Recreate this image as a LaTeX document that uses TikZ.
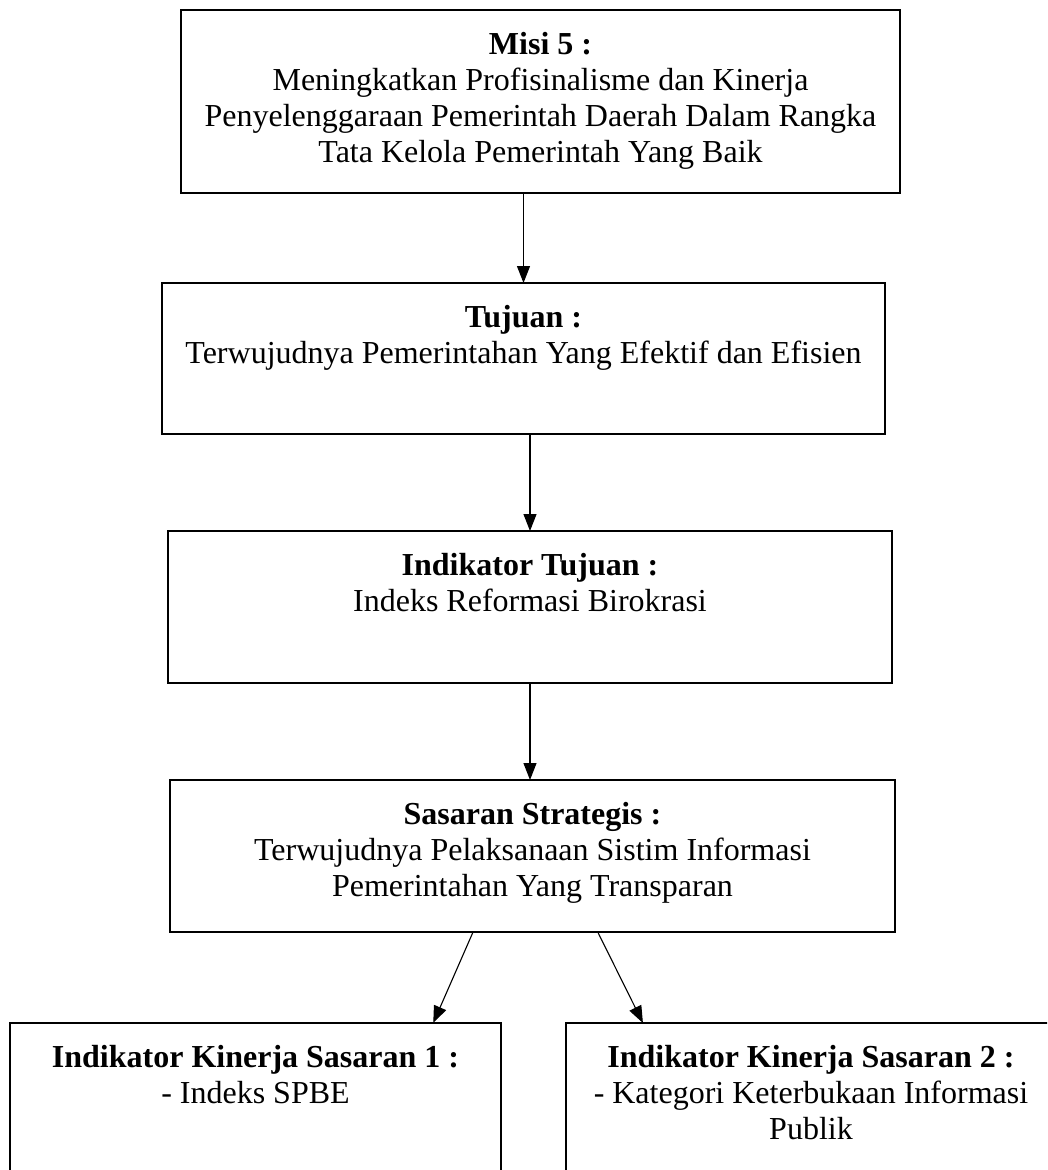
\documentclass[tikz,border=0pt]{standalone}
\usepackage{fontspec}
\setmainfont{Liberation Serif}
\usetikzlibrary{arrows.meta,calc}
\tikzstyle{kotak}=[draw,line width=1.6pt,inner sep=0pt,outer sep=0pt]
\tikzstyle{isi}=[align=center,inner sep=0pt,anchor=north,font=\fontsize{32}{36}\selectfont]
\tikzstyle{panah}=[line width=1.1pt,-{Triangle[length=17pt,width=13pt]}]
\newcommand{\isikotak}[3]{% box name, bold title, body lines
  \node[isi] (#1teks) at ([yshift=-22pt]#1.north) {\textbf{#2}\\#3};
}

\begin{document}
\begin{tikzpicture}[x=1pt,y=-1pt]
	\useasboundingbox (0,0) rectangle (1047,1170);
	\begin{scope}
	\clip (0,0) rectangle (1047,1170);
	% boxes, in picture pixels
	\node[kotak,minimum width=719pt,minimum height=183pt] (misi) at (540.5,101.5) {};
	\node[kotak,minimum width=723pt,minimum height=151pt] (tujuan) at (523.5,358.5) {};
	\node[kotak,minimum width=724pt,minimum height=152pt] (indikator) at (530,607) {};
	\node[kotak,minimum width=725pt,minimum height=152pt] (sasaran) at (532.5,856) {};
	\node[kotak,minimum width=491pt,minimum height=172pt] (iksatu) at (255.5,1109) {};
	\node[kotak,minimum width=490pt,minimum height=172pt] (ikdua) at (811,1109) {};
	\isikotak{misi}{Misi 5 :}{Meningkatkan Profisinalisme dan Kinerja\\Penyelenggaraan Pemerintah Daerah Dalam Rangka\\Tata Kelola Pemerintah Yang Baik}
	\isikotak{tujuan}{Tujuan :}{Terwujudnya Pemerintahan Yang Efektif dan Efisien}
	\isikotak{indikator}{Indikator Tujuan :}{Indeks Reformasi Birokrasi}
	\isikotak{sasaran}{Sasaran Strategis :}{Terwujudnya Pelaksanaan Sistim Informasi\\Pemerintahan Yang Transparan}
	\isikotak{iksatu}{Indikator Kinerja Sasaran 1 :}{- Indeks SPBE}
	\isikotak{ikdua}{Indikator Kinerja Sasaran 2 :}{- Kategori Keterbukaan Informasi\\Publik}
	% arrows
	\draw[panah] (misi.south -| tujuan.north) -- (tujuan.north);
	\draw[panah] (tujuan.south -| indikator.north) -- (indikator.north);
	\draw[panah] (indikator.south) -- (indikator.south |- sasaran.north);
	\draw[panah] ($(sasaran.south west)!0.418!(sasaran.south east)$) -- ($(iksatu.north west)!0.862!(iksatu.north east)$);
	\draw[panah] ($(sasaran.south west)!0.59!(sasaran.south east)$) -- ($(ikdua.north west)!0.157!(ikdua.north east)$);
	\end{scope}
\end{tikzpicture}
\end{document}
